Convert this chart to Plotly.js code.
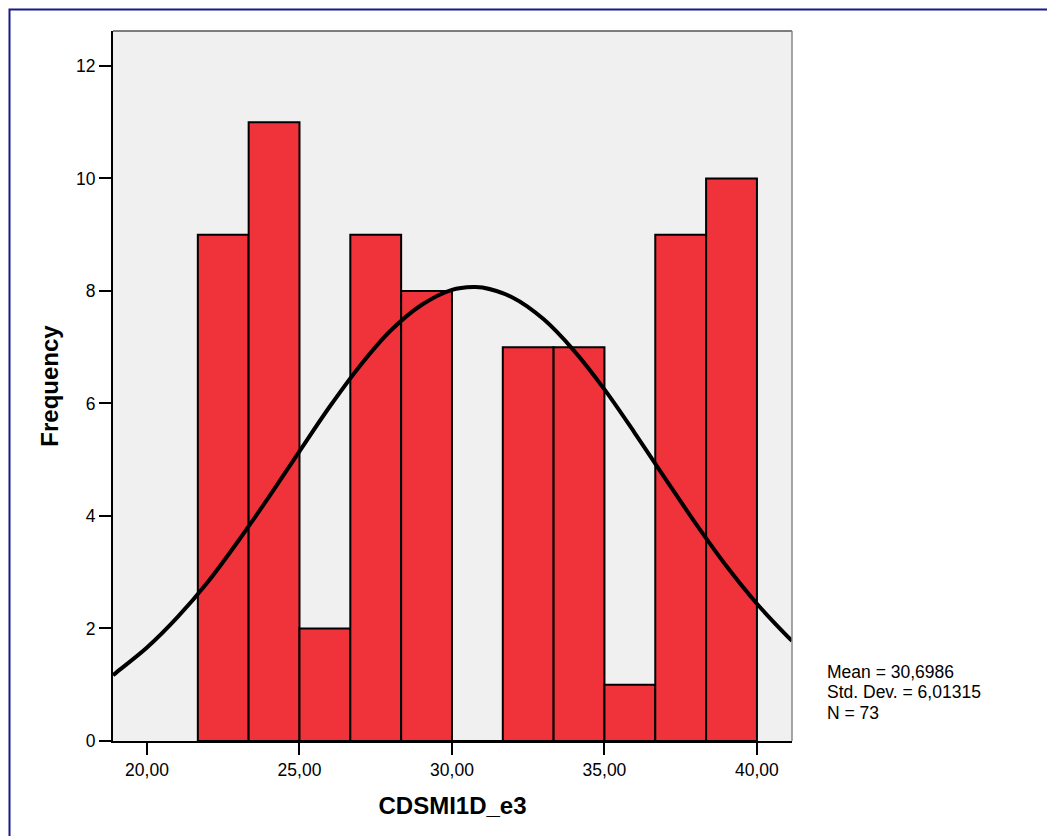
<!DOCTYPE html>
<html>
<head>
<meta charset="utf-8">
<script src="https://cdn.plot.ly/plotly-3.0.1.min.js"></script>
<style>
html,body{margin:0;padding:0;background:#fff;}
#chart{width:1047px;height:836px;}
</style>
</head>
<body>
<div id="chart"></div>
<script>
// Histogram bins (centers) and frequencies
var binCenters = [22.5, 24.1667, 25.8333, 27.5, 29.1667, 30.8333, 32.5, 34.1667, 35.8333, 37.5, 39.1667];
var binWidth = 1.6667;
var counts = [9, 11, 2, 9, 8, 0, 7, 7, 1, 9, 10];

// Fitted normal curve
var curveX = [18.885, 19, 20, 21, 22, 23, 24, 25, 26, 27, 28, 29, 30, 30.7, 31, 32, 33, 34, 35, 36, 37, 38, 39, 40, 41, 41.15];
var curveY = [1.17, 1.22, 1.66, 2.20, 2.83, 3.56, 4.34, 5.15, 5.95, 6.68, 7.30, 7.75, 8.02, 8.07, 8.06, 7.88, 7.50, 6.94, 6.25, 5.47, 4.66, 3.86, 3.11, 2.44, 1.86, 1.78];

var xTickVals = [20, 25, 30, 35, 40];
var xTickText = ["20,00", "25,00", "30,00", "35,00", "40,00"];
var yTickVals = [0, 2, 4, 6, 8, 10, 12];

var statsLines = ["Mean = 30,6986", "Std. Dev. = 6,01315", "N = 73"];

var FONT = "Liberation Sans, Arial, Helvetica, sans-serif";

var L = 113, R = 792, T = 31, B = 741, W = 1047, H = 836;
function px(x){ return (x - L) / (R - L); }
function py(y){ return (B - y) / (B - T); }

var traces = [
  {
    type: "bar",
    x: binCenters,
    y: counts,
    width: binCenters.map(function(){ return binWidth; }),
    marker: { color: "#f0323b", line: { color: "#000000", width: 2 } },
    hoverinfo: "x+y",
    showlegend: false
  },
  {
    type: "scatter",
    mode: "lines",
    x: curveX,
    y: curveY,
    line: { color: "#000000", width: 4, shape: "spline", smoothing: 1 },
    showlegend: false
  }
];

var annotations = statsLines.map(function(t, i){
  return {
    text: t, xref: "paper", yref: "paper",
    x: px(825), y: py(672 + i * 20.3),
    xanchor: "left", yanchor: "middle", showarrow: false,
    font: { family: FONT, size: 17.5, color: "#000" }
  };
});

var layout = {
  width: W, height: H,
  margin: { l: L, r: W - R, t: T, b: H - B, pad: 0 },
  paper_bgcolor: "#ffffff",
  plot_bgcolor: "#f0f0f0",
  font: { family: FONT, color: "#000" },
  bargap: 0,
  xaxis: {
    range: [18.885, 41.15],
    tickvals: xTickVals, ticktext: xTickText,
    ticks: "outside", ticklen: 12, tickwidth: 2, tickcolor: "#000",
    tickfont: { family: FONT, size: 17.5, color: "#000" },
    showgrid: false, zeroline: false,
    showline: true, linecolor: "#000", linewidth: 2,
    title: { text: "<b>CDSMI1D_e3</b>", font: { family: FONT, size: 24, color: "#000" }, standoff: 18 }
  },
  yaxis: {
    range: [0, 12.62],
    tickvals: yTickVals,
    ticks: "outside", ticklen: 12, tickwidth: 2, tickcolor: "#000",
    tickfont: { family: FONT, size: 17.5, color: "#000" },
    showgrid: false, zeroline: false,
    showline: true, linecolor: "#000", linewidth: 2,
    title: { text: "<b>Frequency</b>", font: { family: FONT, size: 24, color: "#000" }, standoff: 11 }
  },
  shapes: [
    { type: "line", xref: "paper", yref: "paper", x0: 0, x1: 1, y0: 1, y1: 1, line: { color: "#555", width: 1.5 } },
    { type: "line", xref: "paper", yref: "paper", x0: 1, x1: 1, y0: 0, y1: 1, line: { color: "#888", width: 1.5 } },
    { type: "rect", xref: "paper", yref: "paper", x0: px(9.5), y0: py(880), x1: px(1100), y1: py(9.5), line: { color: "#1a1a8a", width: 2 }, fillcolor: "rgba(0,0,0,0)", layer: "above" }
  ],
  annotations: annotations
};

Plotly.newPlot("chart", traces, layout, { displayModeBar: false, staticPlot: true });
</script>
</body>
</html>
